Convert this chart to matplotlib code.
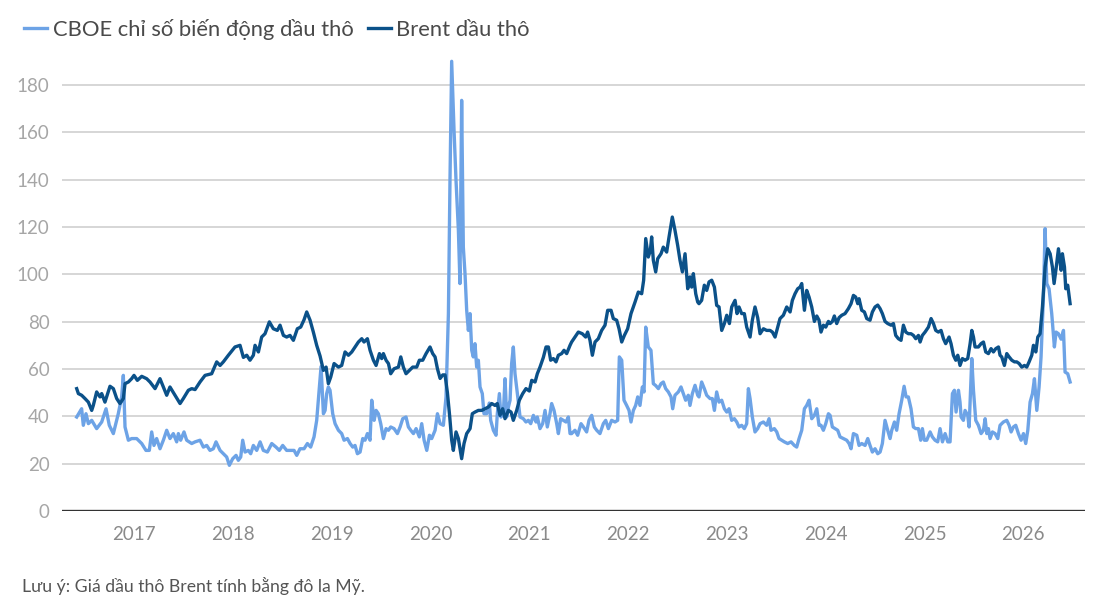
import matplotlib
matplotlib.use("Agg")
import matplotlib.pyplot as plt
from matplotlib.lines import Line2D

plt.rcParams['font.family'] = ['Lato', 'DejaVu Sans']

# CBOE crude oil volatility index (decimal year, value)
ovx_t = [2016.420, 2016.470, 2016.487, 2016.514, 2016.538, 2016.572, 2016.622, 2016.673, 2016.717, 2016.750,
         2016.791, 2016.841, 2016.875, 2016.892, 2016.909, 2016.943, 2016.976, 2017.027, 2017.078, 2017.121,
         2017.155, 2017.179, 2017.202, 2017.229, 2017.263, 2017.297, 2017.331, 2017.364, 2017.398, 2017.432,
         2017.449, 2017.472, 2017.506, 2017.533, 2017.584, 2017.618, 2017.668, 2017.702, 2017.736, 2017.769,
         2017.803, 2017.830, 2017.871, 2017.904, 2017.938, 2017.965, 2017.999, 2018.033, 2018.056, 2018.080,
         2018.100, 2018.124, 2018.157, 2018.181, 2018.208, 2018.242, 2018.276, 2018.309, 2018.350, 2018.394,
         2018.437, 2018.471, 2018.505, 2018.545, 2018.586, 2018.620, 2018.647, 2018.680, 2018.721, 2018.755,
         2018.788, 2018.822, 2018.849, 2018.876, 2018.893, 2018.917, 2018.934, 2018.950, 2018.967, 2018.984,
         2019.011, 2019.035, 2019.069, 2019.102, 2019.126, 2019.160, 2019.187, 2019.214, 2019.237, 2019.261,
         2019.288, 2019.315, 2019.338, 2019.362, 2019.389, 2019.406, 2019.430, 2019.450, 2019.473, 2019.497,
         2019.524, 2019.551, 2019.575, 2019.598, 2019.632, 2019.666, 2019.693, 2019.720, 2019.753, 2019.777,
         2019.801, 2019.828, 2019.855, 2019.888, 2019.912, 2019.936, 2019.963, 2019.990, 2020.013, 2020.047,
         2020.071, 2020.098, 2020.131, 2020.158, 2020.182, 2020.198, 2020.215, 2020.239, 2020.259, 2020.283,
         2020.299, 2020.316, 2020.333, 2020.350, 2020.367, 2020.384, 2020.401, 2020.418, 2020.434, 2020.451,
         2020.468, 2020.485, 2020.502, 2020.525, 2020.542, 2020.569, 2020.596, 2020.610, 2020.637, 2020.664,
         2020.677, 2020.698, 2020.714, 2020.738, 2020.755, 2020.772, 2020.789, 2020.806, 2020.822, 2020.839,
         2020.856, 2020.880, 2020.907, 2020.940, 2020.967, 2020.991, 2021.015, 2021.042, 2021.069, 2021.082,
         2021.109, 2021.136, 2021.160, 2021.183, 2021.210, 2021.227, 2021.251, 2021.278, 2021.295, 2021.318,
         2021.345, 2021.372, 2021.396, 2021.413, 2021.429, 2021.463, 2021.490, 2021.524, 2021.548, 2021.581,
         2021.605, 2021.632, 2021.659, 2021.683, 2021.716, 2021.750, 2021.774, 2021.801, 2021.834, 2021.868,
         2021.895, 2021.912, 2021.936, 2021.959, 2021.986, 2022.010, 2022.030, 2022.054, 2022.077, 2022.098,
         2022.121, 2022.145, 2022.162, 2022.179, 2022.205, 2022.232, 2022.256, 2022.280, 2022.307, 2022.334,
         2022.357, 2022.381, 2022.408, 2022.435, 2022.452, 2022.475, 2022.509, 2022.536, 2022.560, 2022.583,
         2022.610, 2022.627, 2022.651, 2022.678, 2022.705, 2022.718, 2022.745, 2022.772, 2022.796, 2022.830,
         2022.853, 2022.874, 2022.897, 2022.921, 2022.948, 2022.975, 2022.999, 2023.022, 2023.049, 2023.076,
         2023.100, 2023.123, 2023.150, 2023.177, 2023.201, 2023.218, 2023.235, 2023.258, 2023.285, 2023.312,
         2023.336, 2023.370, 2023.403, 2023.427, 2023.447, 2023.481, 2023.505, 2023.528, 2023.555, 2023.582,
         2023.616, 2023.650, 2023.683, 2023.707, 2023.731, 2023.758, 2023.785, 2023.808, 2023.832, 2023.859,
         2023.886, 2023.910, 2023.933, 2023.953, 2023.977, 2024.001, 2024.028, 2024.045, 2024.068, 2024.095,
         2024.122, 2024.146, 2024.180, 2024.213, 2024.237, 2024.257, 2024.281, 2024.315, 2024.338, 2024.365,
         2024.399, 2024.426, 2024.449, 2024.473, 2024.500, 2024.527, 2024.551, 2024.574, 2024.601, 2024.628,
         2024.652, 2024.669, 2024.696, 2024.719, 2024.743, 2024.770, 2024.794, 2024.814, 2024.837, 2024.864,
         2024.888, 2024.912, 2024.939, 2024.962, 2024.979, 2024.999, 2025.023, 2025.057, 2025.080, 2025.107,
         2025.134, 2025.158, 2025.182, 2025.209, 2025.236, 2025.259, 2025.283, 2025.303, 2025.320, 2025.344,
         2025.360, 2025.371, 2025.394, 2025.411, 2025.438, 2025.452, 2025.479, 2025.496, 2025.519, 2025.546,
         2025.573, 2025.597, 2025.614, 2025.631, 2025.647, 2025.664, 2025.688, 2025.715, 2025.742, 2025.765,
         2025.799, 2025.833, 2025.857, 2025.877, 2025.900, 2025.924, 2025.951, 2025.978, 2026.002, 2026.025,
         2026.046, 2026.069, 2026.093, 2026.113, 2026.137, 2026.160, 2026.180, 2026.204, 2026.221, 2026.238,
         2026.261, 2026.288, 2026.315, 2026.332, 2026.356, 2026.383, 2026.407, 2026.423, 2026.450, 2026.474]
ovx_v = [39.7, 43.2, 36.2, 41.1, 36.9, 38.3, 34.8, 37.6, 43.2, 36.2,
         32.7, 41.1, 48.2, 57.3, 35.5, 29.9, 30.6, 30.6, 28.5, 25.6,
         25.6, 33.4, 27.7, 30.6, 26.3, 29.9, 34.1, 30.6, 32.7, 29.2,
         32.7, 29.9, 33.4, 29.9, 28.5, 29.2, 29.9, 27.0, 27.7, 25.6,
         26.3, 29.2, 25.6, 24.2, 22.8, 19.3, 22.1, 23.5, 21.4, 22.8,
         29.9, 24.9, 25.6, 24.2, 27.7, 25.6, 29.2, 25.6, 24.9, 28.5,
         27.0, 25.6, 27.7, 25.6, 25.6, 25.6, 23.5, 26.3, 26.3, 28.5,
         27.0, 31.3, 38.3, 52.4, 61.0, 41.1, 42.5, 49.6, 52.4, 51.0,
         41.1, 36.9, 34.1, 32.7, 29.9, 30.6, 28.5, 27.0, 27.7, 24.2,
         24.9, 30.6, 29.9, 32.7, 29.9, 46.8, 38.3, 42.5, 41.1, 36.9,
         30.6, 34.8, 34.1, 35.5, 34.8, 32.7, 35.5, 39.0, 39.7, 35.5,
         34.1, 32.7, 34.8, 31.3, 36.9, 29.9, 25.6, 32.0, 30.6, 34.1,
         41.1, 36.9, 36.2, 48.2, 83.4, 139.7, 190.0, 160.8, 139.7, 118.6,
         96.1, 173.5, 111.5, 100.3, 84.8, 76.3, 83.4, 67.9, 65.1, 70.7,
         60.8, 63.7, 52.4, 49.6, 41.1, 41.1, 45.6, 38.3, 34.1, 32.0,
         41.1, 49.6, 39.7, 41.1, 55.9, 39.7, 43.9, 46.8, 62.3, 69.3,
         58.0, 49.6, 39.7, 39.0, 37.6, 38.3, 36.9, 40.4, 37.6, 39.7,
         34.8, 36.9, 42.5, 35.5, 41.1, 45.4, 42.5, 36.9, 32.7, 39.0,
         38.3, 37.6, 39.7, 32.7, 32.7, 34.1, 32.0, 36.9, 35.5, 33.4,
         38.3, 40.4, 35.5, 34.1, 32.7, 36.9, 38.3, 34.8, 38.3, 37.6,
         38.3, 65.1, 63.7, 46.8, 44.6, 42.5, 37.6, 42.5, 44.6, 48.2,
         44.6, 52.4, 50.3, 77.7, 69.3, 67.9, 53.8, 53.0, 51.7, 53.8,
         54.5, 51.7, 50.3, 48.2, 43.2, 48.9, 50.3, 52.4, 49.6, 46.8,
         48.9, 44.6, 49.6, 53.1, 48.9, 48.2, 54.5, 51.7, 48.9, 47.5,
         47.5, 42.5, 50.3, 46.0, 46.8, 43.2, 41.8, 43.2, 38.3, 39.0,
         37.6, 35.5, 36.2, 34.8, 36.9, 51.7, 47.5, 39.7, 33.4, 34.8,
         36.9, 37.6, 36.2, 39.0, 34.1, 34.8, 33.4, 30.6, 29.9, 29.2,
         28.5, 29.2, 27.7, 27.0, 30.6, 34.1, 43.2, 44.6, 46.8, 39.0,
         40.4, 43.2, 36.2, 36.2, 34.1, 36.9, 41.1, 40.4, 35.5, 34.8,
         34.1, 31.3, 30.6, 29.9, 28.5, 26.3, 32.7, 32.0, 27.7, 28.5,
         27.7, 30.6, 27.7, 24.9, 26.3, 24.2, 24.9, 28.5, 38.3, 34.1,
         30.6, 34.1, 37.6, 34.1, 41.1, 46.8, 52.7, 48.2, 48.2, 43.2,
         35.5, 34.8, 34.8, 29.9, 34.8, 29.9, 29.9, 33.4, 31.3, 29.9,
         29.2, 34.8, 29.2, 32.7, 29.2, 29.2, 49.6, 51.0, 41.8, 51.0,
         46.0, 39.7, 38.3, 42.5, 40.4, 35.5, 64.4, 51.0, 38.3, 36.2,
         32.7, 34.1, 39.0, 32.7, 34.8, 30.6, 33.4, 32.7, 30.6, 36.2,
         37.6, 38.3, 36.2, 33.4, 35.5, 36.2, 32.7, 29.9, 32.7, 28.5,
         34.1, 46.0, 49.6, 55.9, 42.5, 52.4, 65.1, 90.4, 119.3, 96.1,
         93.9, 83.4, 69.3, 75.6, 74.9, 72.6, 76.3, 58.7, 58.0, 54.5]

# Brent crude price, USD (decimal year, value)
brent_t = [2016.420, 2016.437, 2016.470, 2016.504, 2016.538, 2016.572, 2016.588, 2016.622, 2016.656, 2016.673,
           2016.706, 2016.757, 2016.791, 2016.825, 2016.858, 2016.892, 2016.909, 2016.943, 2016.976, 2017.000,
           2017.034, 2017.078, 2017.128, 2017.162, 2017.213, 2017.263, 2017.297, 2017.331, 2017.364, 2017.415,
           2017.466, 2017.499, 2017.550, 2017.584, 2017.618, 2017.668, 2017.719, 2017.786, 2017.837, 2017.871,
           2017.904, 2017.955, 2018.022, 2018.073, 2018.107, 2018.141, 2018.174, 2018.208, 2018.225, 2018.259,
           2018.292, 2018.326, 2018.370, 2018.410, 2018.451, 2018.478, 2018.512, 2018.545, 2018.579, 2018.613,
           2018.653, 2018.687, 2018.721, 2018.748, 2018.782, 2018.815, 2018.849, 2018.883, 2018.917, 2018.944,
           2018.967, 2018.991, 2019.025, 2019.069, 2019.102, 2019.136, 2019.170, 2019.204, 2019.237, 2019.271,
           2019.305, 2019.328, 2019.362, 2019.389, 2019.423, 2019.450, 2019.484, 2019.507, 2019.524, 2019.551,
           2019.575, 2019.598, 2019.632, 2019.676, 2019.700, 2019.726, 2019.753, 2019.787, 2019.821, 2019.861,
           2019.888, 2019.922, 2019.956, 2019.996, 2020.023, 2020.047, 2020.071, 2020.098, 2020.125, 2020.148,
           2020.172, 2020.195, 2020.215, 2020.232, 2020.259, 2020.283, 2020.316, 2020.340, 2020.367, 2020.401,
           2020.424, 2020.451, 2020.485, 2020.519, 2020.552, 2020.586, 2020.620, 2020.654, 2020.677, 2020.704,
           2020.731, 2020.755, 2020.789, 2020.816, 2020.839, 2020.873, 2020.900, 2020.934, 2020.967, 2021.001,
           2021.025, 2021.059, 2021.082, 2021.109, 2021.143, 2021.170, 2021.194, 2021.217, 2021.244, 2021.271,
           2021.295, 2021.328, 2021.352, 2021.379, 2021.413, 2021.429, 2021.463, 2021.497, 2021.537, 2021.571,
           2021.591, 2021.615, 2021.639, 2021.666, 2021.699, 2021.733, 2021.767, 2021.794, 2021.828, 2021.851,
           2021.885, 2021.909, 2021.936, 2021.963, 2021.996, 2022.030, 2022.071, 2022.104, 2022.138, 2022.158,
           2022.179, 2022.205, 2022.226, 2022.239, 2022.256, 2022.280, 2022.300, 2022.334, 2022.357, 2022.391,
           2022.415, 2022.448, 2022.475, 2022.502, 2022.526, 2022.550, 2022.577, 2022.604, 2022.627, 2022.644,
           2022.661, 2022.685, 2022.705, 2022.718, 2022.745, 2022.772, 2022.796, 2022.820, 2022.847, 2022.874,
           2022.897, 2022.921, 2022.948, 2022.975, 2022.999, 2023.026, 2023.049, 2023.083, 2023.103, 2023.123,
           2023.150, 2023.177, 2023.201, 2023.235, 2023.258, 2023.285, 2023.312, 2023.336, 2023.370, 2023.403,
           2023.437, 2023.461, 2023.488, 2023.515, 2023.538, 2023.572, 2023.606, 2023.640, 2023.663, 2023.690,
           2023.717, 2023.741, 2023.758, 2023.785, 2023.808, 2023.832, 2023.859, 2023.886, 2023.910, 2023.933,
           2023.953, 2023.977, 2024.001, 2024.028, 2024.045, 2024.068, 2024.088, 2024.112, 2024.136, 2024.163,
           2024.196, 2024.230, 2024.257, 2024.281, 2024.304, 2024.325, 2024.338, 2024.365, 2024.392, 2024.416,
           2024.449, 2024.473, 2024.500, 2024.527, 2024.551, 2024.574, 2024.601, 2024.628, 2024.662, 2024.686,
           2024.709, 2024.736, 2024.763, 2024.787, 2024.811, 2024.837, 2024.864, 2024.888, 2024.912, 2024.939,
           2024.956, 2024.979, 2025.006, 2025.040, 2025.067, 2025.091, 2025.114, 2025.141, 2025.168, 2025.192,
           2025.215, 2025.249, 2025.269, 2025.293, 2025.317, 2025.337, 2025.360, 2025.384, 2025.411, 2025.438,
           2025.462, 2025.479, 2025.496, 2025.512, 2025.546, 2025.573, 2025.597, 2025.620, 2025.647, 2025.674,
           2025.698, 2025.722, 2025.749, 2025.765, 2025.782, 2025.809, 2025.833, 2025.857, 2025.884, 2025.911,
           2025.934, 2025.958, 2025.985, 2026.012, 2026.035, 2026.059, 2026.086, 2026.103, 2026.127, 2026.147,
           2026.170, 2026.194, 2026.221, 2026.248, 2026.272, 2026.295, 2026.312, 2026.332, 2026.356, 2026.383,
           2026.396, 2026.417, 2026.430, 2026.450, 2026.474]
brent_v = [51.7, 49.6, 48.9, 47.5, 46.0, 42.5, 44.6, 50.3, 48.2, 49.6,
           46.0, 52.7, 51.7, 47.5, 45.4, 47.5, 53.8, 54.5, 55.9, 57.3,
           55.2, 56.9, 55.9, 54.5, 51.7, 55.9, 52.4, 48.9, 52.4, 48.9,
           45.4, 47.5, 51.0, 51.7, 51.3, 54.5, 57.3, 58.0, 63.0, 61.5,
           63.0, 65.8, 69.3, 70.0, 64.9, 65.8, 63.7, 65.8, 70.0, 67.2,
           73.5, 74.9, 79.9, 77.0, 76.3, 78.5, 74.2, 73.5, 74.2, 72.1,
           77.0, 77.7, 80.8, 84.1, 80.6, 75.6, 70.0, 65.5, 59.4, 60.8,
           53.8, 56.6, 62.3, 60.8, 61.5, 67.2, 65.8, 67.2, 69.3, 71.4,
           72.8, 71.4, 72.8, 67.9, 63.7, 61.5, 66.5, 64.4, 66.5, 63.7,
           62.3, 58.0, 60.1, 60.8, 65.1, 60.8, 58.0, 59.4, 60.8, 60.8,
           63.7, 63.7, 66.5, 69.3, 66.5, 65.1, 60.1, 56.0, 57.5, 57.5,
           50.0, 40.0, 30.0, 25.6, 33.4, 30.6, 22.1, 28.5, 32.7, 34.8,
           41.1, 41.8, 42.5, 42.5, 43.2, 43.9, 45.4, 44.6, 45.4, 40.4,
           43.2, 39.0, 42.5, 41.8, 38.3, 42.5, 46.8, 49.6, 51.7, 50.7,
           55.2, 54.5, 58.0, 60.8, 64.9, 69.3, 69.3, 63.7, 64.4, 63.0,
           65.8, 66.5, 67.9, 66.5, 70.0, 71.4, 73.5, 75.6, 74.9, 73.5,
           75.6, 72.1, 65.8, 71.4, 72.8, 76.3, 78.5, 84.8, 84.8, 81.3,
           80.6, 77.0, 71.4, 74.2, 77.0, 83.4, 88.3, 92.5, 91.8, 97.5,
           115.1, 107.3, 110.1, 115.8, 105.9, 101.0, 106.6, 108.7, 111.5, 109.4,
           115.8, 124.2, 118.6, 112.3, 105.9, 101.0, 108.7, 93.9, 98.9, 94.6,
           100.3, 91.8, 88.3, 87.6, 89.0, 95.4, 93.2, 96.8, 97.5, 94.6,
           86.9, 86.2, 76.3, 79.2, 82.7, 79.2, 86.2, 89.0, 83.4, 86.2,
           83.4, 83.4, 77.7, 73.5, 80.6, 86.2, 81.7, 74.9, 77.0, 76.3,
           76.3, 75.6, 73.5, 77.7, 81.3, 82.7, 86.2, 84.1, 89.0, 91.8,
           93.9, 94.6, 96.1, 84.8, 93.2, 90.4, 86.2, 80.1, 82.4, 80.6,
           75.6, 78.5, 77.7, 80.1, 79.2, 80.1, 82.4, 79.2, 81.7, 82.7,
           83.4, 85.5, 87.6, 91.1, 90.4, 87.6, 89.7, 84.8, 84.1, 81.3,
           80.6, 84.1, 86.2, 87.0, 85.5, 83.4, 80.1, 79.2, 78.5, 79.2,
           74.2, 72.8, 72.1, 78.5, 75.6, 74.9, 74.9, 74.2, 72.8, 74.2,
           71.4, 74.2, 75.6, 77.7, 81.3, 79.2, 76.3, 75.6, 76.3, 72.8,
           70.7, 73.5, 70.7, 65.8, 63.7, 65.8, 61.5, 64.4, 63.7, 64.4,
           70.7, 76.3, 73.5, 69.3, 69.3, 70.7, 71.4, 67.2, 66.5, 68.6,
           67.2, 68.6, 69.3, 65.8, 65.1, 61.5, 66.5, 65.1, 63.7, 63.0,
           63.0, 62.3, 60.8, 61.5, 60.8, 63.0, 65.8, 70.0, 67.2, 73.5,
           74.9, 86.2, 103.1, 110.8, 108.7, 103.1, 96.1, 102.4, 110.8, 101.7,
           108.7, 103.1, 93.9, 95.4, 87.6]

years = list(range(2017, 2027))
y_ticks = list(range(0, 181, 20))

fig = plt.figure(figsize=(10.93, 6.05), dpi=100)
ax = fig.add_axes([0.0567, 0.1554, 0.936, 0.7628])

ax.plot(ovx_t, ovx_v, color='#6da3e6', lw=2.4, solid_joinstyle='round', zorder=3)
ax.plot(brent_t, brent_v, color='#0b5189', lw=2.4, solid_joinstyle='round', zorder=4)

ax.set_xlim(2016.271, 2026.625)
ax.set_ylim(0, 195)
ax.set_yticks(y_ticks)
ax.set_xticks(years)
ax.set_xticklabels([str(y) for y in years])
ax.yaxis.grid(True, color='#d0d0d0', lw=1.2)
ax.set_axisbelow(True)
ax.axhline(0, color='#333333', lw=2.4, zorder=5)
for s in ax.spines.values():
    s.set_visible(False)
ax.tick_params(axis='both', length=0, labelsize=13.5, colors='#a6a6a6')
ax.tick_params(axis='y', pad=9)
ax.tick_params(axis='x', pad=11, colors='#8a8a8a')

handles = [Line2D([], [], color='#6da3e6', lw=2.4), Line2D([], [], color='#0b5189', lw=2.4)]
fig.legend(handles, ['CBOE chỉ số biến động dầu thô', 'Brent dầu thô'], loc='center left',
           bbox_to_anchor=(0.004, 0.952), ncol=2, frameon=False, fontsize=15.8,
           handlelength=1.05, handletextpad=0.25, columnspacing=0.65, labelcolor='#4a4a4a')

fig.text(0.02, 0.032, 'Lưu ý: Giá dầu thô Brent tính bằng đô la Mỹ.', fontsize=12.7,
         color='#555555', ha='left', va='center')

fig.savefig('out.png', dpi=100)
